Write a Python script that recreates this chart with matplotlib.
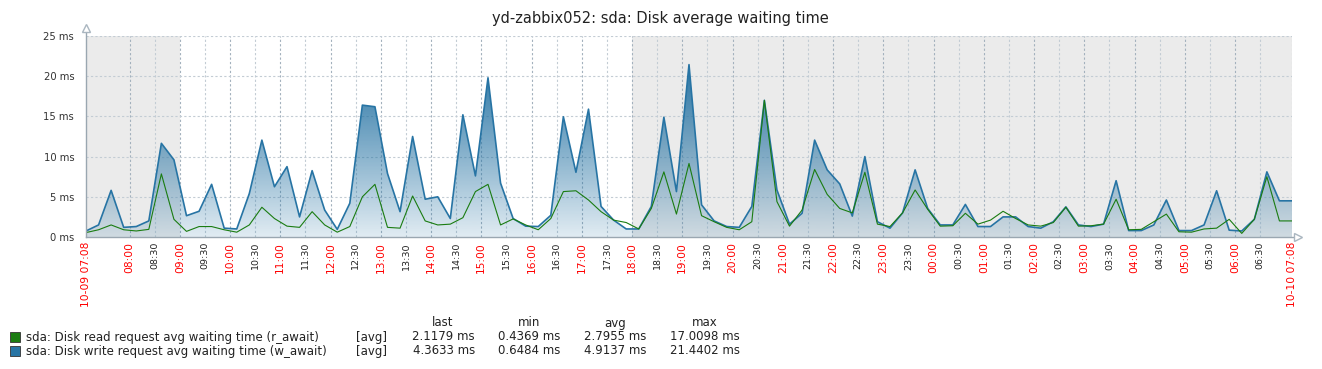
import numpy as np
import matplotlib.pyplot as plt
from matplotlib.colors import to_rgb

title = 'yd-zabbix052: sda: Disk average waiting time'

# samples every 15 minutes from 10-09 07:08 to 10-10 07:08 (minutes since start)
t_min = np.arange(0, 1441, 15)

r_await = [0.55, 0.9, 1.5, 0.9, 0.75, 0.95, 7.85, 2.2, 0.7, 1.3, 1.3, 0.9, 0.6, 1.5, 3.7, 2.3,
           1.35, 1.2, 3.15, 1.5, 0.6, 1.3, 5.0, 6.55, 1.2, 1.1, 5.1, 2.0, 1.5, 1.6, 2.4, 5.65,
           6.55, 1.5, 2.25, 1.5, 0.9, 2.3, 5.65, 5.75, 4.6, 3.15, 2.1, 1.8, 1.0, 3.55, 8.1, 2.85,
           9.15, 2.65, 1.9, 1.2, 0.9, 1.9, 17.0, 4.4, 1.35, 3.35, 8.4, 5.3, 3.55, 3.0, 8.05, 1.6,
           1.3, 3.0, 5.85, 3.45, 1.35, 1.4, 2.95, 1.6, 2.1, 3.2, 2.3, 1.5, 1.35, 1.8, 3.7, 1.35,
           1.4, 1.6, 4.7, 0.9, 0.95, 1.9, 2.85, 0.65, 0.6, 1.0, 1.1, 2.2, 0.45, 2.2, 7.5, 2.0, 2.0]

w_await = [0.75, 1.5, 5.8, 1.2, 1.3, 2.0, 11.65, 9.6, 2.65, 3.2, 6.55, 1.1, 1.0, 5.4, 12.05, 6.25,
           8.75, 2.5, 8.25, 3.35, 0.95, 4.2, 16.4, 16.2, 7.9, 3.15, 12.5, 4.7, 5.0, 2.3, 15.2, 7.6,
           19.8, 6.7, 2.3, 1.35, 1.3, 2.7, 14.95, 8.05, 15.9, 3.8, 2.1, 1.0, 1.0, 3.8, 14.9, 5.65,
           21.44, 4.0, 2.0, 1.3, 1.2, 3.8, 17.0, 5.85, 1.6, 2.95, 12.05, 8.35, 6.6, 2.6, 10.0, 1.9,
           1.1, 3.0, 8.35, 3.55, 1.5, 1.5, 4.05, 1.3, 1.3, 2.5, 2.5, 1.3, 1.1, 1.9, 3.75, 1.5,
           1.3, 1.6, 7.0, 0.8, 0.8, 1.5, 4.6, 0.8, 0.8, 1.5, 5.75, 0.85, 0.75, 2.2, 8.1, 4.5, 4.5]

legend_names = ['sda: Disk read request avg waiting time (r_await)',
                'sda: Disk write request avg waiting time (w_await)']
legend_last = ['2.1179 ms', '4.3633 ms']
legend_min = ['0.4369 ms', '0.6484 ms']
legend_avg = ['2.7955 ms', '4.9137 ms']
legend_max = ['17.0098 ms', '21.4402 ms']

green = '#1A7C11'
blue = '#2774A4'

W, H = 1322, 369
fig = plt.figure(figsize=(W / 100, H / 100), dpi=100)
x0, x1, y0, y1 = 86, 1292, 36, 237
ax = fig.add_axes([x0 / W, 1 - y1 / H, (x1 - x0) / W, (y1 - y0) / H])
ax.set_xlim(0, 1440)
ax.set_ylim(0, 25)
for s in ax.spines.values():
    s.set_visible(False)

# off-hours shading (before 09:00, after 18:00)
ax.axvspan(0, 112, color='#ebebeb', lw=0, zorder=0)
ax.axvspan(652, 1440, color='#ebebeb', lw=0, zorder=0)

# grid
marks = np.arange(52, 1403, 30)
for m in marks:
    hour = (m - 52) % 60 == 0
    ax.axvline(m, color='#a3b1bd' if hour else '#c3ccd4', lw=0.8,
               linestyle=(0, (2, 2)), zorder=1)
ax.axvline(1440, color='#c3ccd4', lw=0.8, linestyle=(0, (2, 2)), zorder=1)
for v in [5, 10, 15, 20, 25]:
    ax.axhline(v, color='#c3ccd4', lw=0.8, linestyle=(0, (2, 2)), zorder=1)

# gradient fill under write series
poly = ax.fill_between(t_min, 0, w_await, color='none', lw=0)
rgb = to_rgb(blue)
vals = np.linspace(0, 25, 300)
alpha = 0.14 + 0.86 * np.clip(vals / 21.5, 0, 1)
grad = np.zeros((300, 1, 4))
grad[:, 0, :3] = rgb
grad[:, 0, 3] = alpha
im = ax.imshow(grad, extent=[0, 1440, 0, 25], origin='lower', aspect='auto', zorder=2)
im.set_clip_path(poly.get_paths()[0], transform=ax.transData)

ax.plot(t_min, w_await, color=blue, lw=1.2, zorder=3)
ax.plot(t_min, r_await, color=green, lw=0.8, zorder=4)

# axes lines with arrows
ax.plot([0, 0], [0, 1.04], transform=ax.transAxes, color='#9aa7b1', lw=1, clip_on=False, zorder=5)
ax.plot([0], [1.04], transform=ax.transAxes, marker='^', ms=6, mfc='white', mec='#aab6c0',
        clip_on=False, zorder=5)
ax.plot([0, 1.005], [0, 0], transform=ax.transAxes, color='#9aa7b1', lw=1, clip_on=False, zorder=5)
ax.plot([1.005], [0], transform=ax.transAxes, marker='>', ms=6, mfc='white', mec='#aab6c0',
        clip_on=False, zorder=5)

# y ticks
ax.set_yticks([0, 5, 10, 15, 20, 25])
ax.set_yticklabels([f'{v} ms' for v in [0, 5, 10, 15, 20, 25]])
ax.tick_params(axis='y', length=0, pad=8.5, labelsize=7.2, labelcolor='#333333')

# x ticks
ax.set_xticks([])
ax.set_xticklabels([])
xt = ax.get_xaxis_transform()
for m in marks:
    tot = 7 * 60 + 8 + m
    hh, mm = (tot // 60) % 24, tot % 60
    hour = mm == 0
    ax.text(m, -0.025, f'{hh:02d}:{mm:02d}', transform=xt,
            rotation=90, ha='center', va='top', fontsize=7.7 if hour else 6.8,
            color='#ff0000' if hour else '#222222')
ax.text(0, -0.025, '10-09 07:08', transform=xt, rotation=90,
        ha='center', va='top', fontsize=7.7, color='#ff0000')
ax.text(1440, -0.025, '10-10 07:08', transform=xt, rotation=90,
        ha='center', va='top', fontsize=7.7, color='#ff0000')

fig.text(660 / W, 1 - 19 / H, title, ha='center', va='center', fontsize=10.5, color='#222222')

# legend
def fy(py):
    return 1 - py / H

fs = 8.5
fig.text(443 / W, fy(323), 'last', ha='center', va='center', fontsize=fs, color='#222222')
fig.text(529 / W, fy(323), 'min', ha='center', va='center', fontsize=fs, color='#222222')
fig.text(615 / W, fy(323), 'avg', ha='center', va='center', fontsize=fs, color='#222222')
fig.text(705 / W, fy(323), 'max', ha='center', va='center', fontsize=fs, color='#222222')
for i, c in enumerate([green, blue]):
    yy = 337 + 14 * i
    fig.patches.append(plt.Rectangle((10 / W, fy(yy + 5)), 10 / W, 10 / H, transform=fig.transFigure,
                                     facecolor=c, edgecolor='#333333', lw=0.6))
    fig.text(26 / W, fy(yy), legend_names[i], ha='left', va='center', fontsize=fs, color='#222222')
    fig.text(356 / W, fy(yy), '[avg]', ha='left', va='center', fontsize=fs, color='#222222')
    fig.text(475 / W, fy(yy), legend_last[i], ha='right', va='center', fontsize=fs, color='#222222')
    fig.text(560 / W, fy(yy), legend_min[i], ha='right', va='center', fontsize=fs, color='#222222')
    fig.text(646 / W, fy(yy), legend_avg[i], ha='right', va='center', fontsize=fs, color='#222222')
    fig.text(740 / W, fy(yy), legend_max[i], ha='right', va='center', fontsize=fs, color='#222222')

fig.savefig('out.png', dpi=100)
